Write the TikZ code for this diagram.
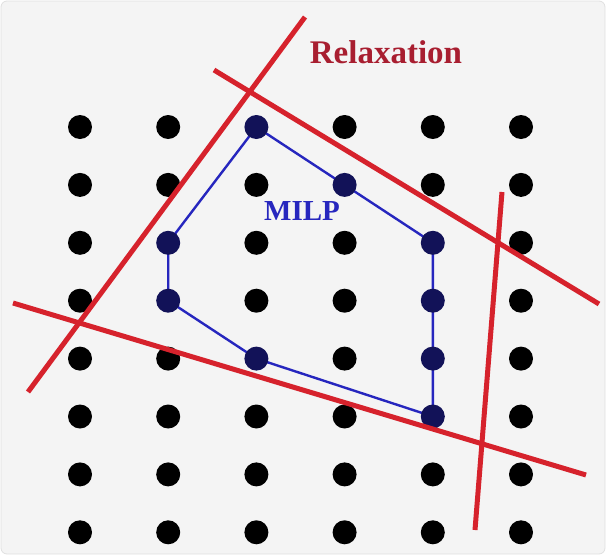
\documentclass[tikz,border=0pt]{standalone}
\usepackage{fontspec}
\setmainfont{Liberation Serif}
\usepackage{xcolor}
\usetikzlibrary{backgrounds}
\definecolor{relaxred}{RGB}{214,34,44}
\definecolor{relaxtext}{RGB}{168,30,48}
\definecolor{milpblue}{RGB}{38,38,190}
\definecolor{milpnavy}{RGB}{18,18,88}
\definecolor{paper}{RGB}{244,244,244}

\begin{document}
\begin{tikzpicture}[
  x=1pt,y=-1pt,
  dot/.style={circle, fill=black, draw=none, minimum size=24pt, inner sep=0pt},
  milpvertex/.style={hull-#1/.style={fill=milpnavy}},
  milpvertex/.list={2-0,3-1,4-2,4-3,4-4,4-5,2-4,1-3,1-2},
  cut/.style={relaxred, line width=5pt},
  milpline/.style={milpblue, line width=2.4pt, line join=round}
]
\useasboundingbox (0,0) rectangle (606,555);

% integer lattice
\foreach \i in {0,...,5} {
  \foreach \j in {0,...,7} {
    \node[dot, hull-\i-\j/.try] (d-\i-\j) at (80+88.2*\i, 127+57.9*\j) {};
  }
}

% feasible region of the MILP
\begin{pgfonlayer}{background}
\fill[paper, draw=black!12, line width=0.8pt, rounded corners=6pt] (1,1) rectangle (605,554);
\draw[milpline] (d-2-0.center) -- (d-3-1.center) -- (d-4-2.center) -- (d-4-3.center)
  -- (d-4-4.center) -- (d-4-5.center) -- (d-2-4.center) -- (d-1-3.center)
  -- (d-1-2.center) -- cycle;
\end{pgfonlayer}
\node[milpblue, font=\bfseries\fontsize{29}{29}\selectfont] (milp) at (302,211) {MILP};

% cutting planes of the relaxation
\coordinate (a1) at (28,392);  \coordinate (a2) at (305,17);
\coordinate (b1) at (214,70);  \coordinate (b2) at (599,304);
\coordinate (c1) at (502,192); \coordinate (c2) at (475,530);
\coordinate (e1) at (13,303);  \coordinate (e2) at (586,475);
\draw[cut] (a1) -- (a2);
\draw[cut] (b1) -- (b2);
\draw[cut] (c1) -- (c2);
\draw[cut] (e1) -- (e2);
\node[relaxtext, font=\bfseries\fontsize{33}{33}\selectfont, anchor=base] (relax) at (386,63) {Relaxation};
\end{tikzpicture}
\end{document}
